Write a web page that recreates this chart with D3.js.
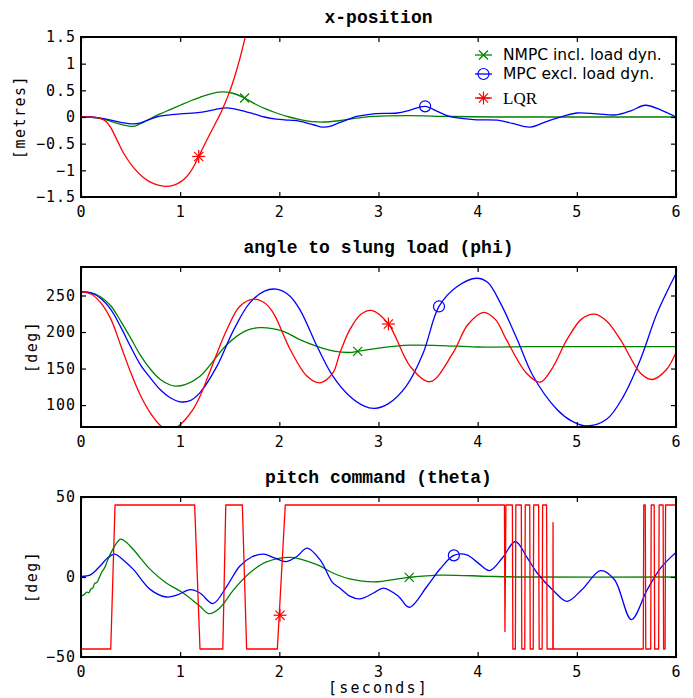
<!DOCTYPE html>
<html>
<head>
<meta charset="UTF-8">
<style>
  body { margin: 0; background: #fff; }
  svg text { font-family: "DejaVu Sans Mono", monospace; font-size: 15px; letter-spacing: 1px; fill: #000; }
  svg .title { font-family: "Liberation Mono", monospace; font-weight: bold; font-size: 18px; letter-spacing: 0; }
  svg .ylabel { letter-spacing: 1.5px; }
  svg .legend text { font-family: "DejaVu Sans", sans-serif; font-size: 15.5px; letter-spacing: 0; }
  .tick line { stroke-width: 1.2; }
</style>
</head>
<body>
<svg></svg>
<script src="https://d3js.org/d3.v7.min.js"></script>
<script>

// time axis
const timeTicks = [0, 1, 2, 3, 4, 5, 6];

// x-position [metres]
const xposTicks = [-1.5, -1, -0.5, 0, 0.5, 1, 1.5];
const xposNmpc = [[0,0],[0.1,-0.005],[0.2,-0.03],[0.3,-0.08],[0.4,-0.14],[0.5,-0.175],[0.55,-0.165],[0.62,-0.11],[0.68,-0.05],[0.73,0],[0.8,0.06],[0.9,0.14],[1.0,0.22],[1.1,0.3],[1.2,0.37],[1.3,0.43],[1.42,0.47],[1.52,0.45],[1.65,0.356],[1.74,0.26],[1.85,0.16],[1.97,0.075],[2.1,0.0],[2.21,-0.05],[2.33,-0.085],[2.44,-0.094],[2.6,-0.07],[2.71,-0.04],[2.95,0.01],[3.3,0.025],[3.7,0.01],[4.2,0],[5,0],[6,0]];
const xposMpc = [[0,0],[0.1,0],[0.2,-0.02],[0.3,-0.06],[0.4,-0.1],[0.53,-0.13],[0.6,-0.11],[0.7,-0.04],[0.76,0],[0.85,0.03],[1.0,0.06],[1.2,0.085],[1.35,0.14],[1.47,0.17],[1.6,0.13],[1.74,0.06],[1.85,0.0],[1.97,-0.04],[2.1,-0.06],[2.21,-0.08],[2.35,-0.15],[2.44,-0.19],[2.52,-0.17],[2.6,-0.11],[2.7,-0.04],[2.78,0.01],[2.95,0.06],[3.19,0.075],[3.32,0.13],[3.47,0.2],[3.6,0.1],[3.72,0.01],[3.96,-0.05],[4.2,-0.06],[4.35,-0.12],[4.53,-0.19],[4.7,-0.08],[4.8,-0.02],[5.0,0.075],[5.2,0.06],[5.4,0.04],[5.55,0.12],[5.69,0.22],[5.85,0.13],[6,0]];
const xposLqr = [[0,0],[0.16,-0.01],[0.2,-0.03],[0.25,-0.08],[0.3,-0.2],[0.36,-0.42],[0.43,-0.68],[0.53,-0.95],[0.62,-1.12],[0.7,-1.22],[0.85,-1.3],[0.93,-1.28],[1.0,-1.22],[1.05,-1.15],[1.1,-1.04],[1.15,-0.88],[1.187,-0.74],[1.25,-0.5],[1.3,-0.32],[1.35,-0.14],[1.4,0.04],[1.45,0.25],[1.5,0.48],[1.55,0.76],[1.6,1.08],[1.65,1.45],[1.7,1.85],[1.8,2.7]];
const xposMarks = [[1.65,0.356],[3.47,0.2],[1.187,-0.74]];

// angle to slung load (phi) [deg]
const phiTicks = [100, 150, 200, 250];
const phiNmpc = [[0,255],[0.1,254],[0.2,248],[0.3,236],[0.4,215],[0.5,192],[0.6,168],[0.7,149],[0.8,135],[0.9,127.5],[0.95,126],[1.05,128],[1.2,139.5],[1.47,182.7],[1.65,201],[1.8,206],[2.04,201],[2.2,190],[2.38,180.5],[2.55,174],[2.71,172],[2.79,173.6],[3.0,178],[3.32,182],[3.62,181.5],[4.0,179.5],[4.5,180],[5,180],[6,180]];
const phiMpc = [[0,255],[0.1,253.5],[0.2,246],[0.3,231],[0.4,207],[0.5,180],[0.6,155],[0.7,137],[0.8,121],[0.9,110],[1.0,104.5],[1.1,106],[1.2,117],[1.37,153],[1.54,203],[1.7,239.5],[1.85,256],[1.97,258.6],[2.1,250],[2.21,230],[2.38,180.5],[2.54,139.5],[2.71,112],[2.85,99],[2.96,95.5],[3.1,102],[3.28,126],[3.45,171],[3.61,235],[3.79,262],[3.99,273.6],[4.1,268],[4.23,239.5],[4.4,189.5],[4.56,139.5],[4.8,94],[4.95,78],[5.1,71.4],[5.3,80.5],[5.47,112],[5.64,162],[5.81,226],[6,280]];
const phiLqr = [[0,255],[0.1,252],[0.2,240],[0.3,218],[0.4,182],[0.5,145],[0.6,113],[0.7,89],[0.8,72],[0.88,64],[0.97,70],[1.05,80],[1.13,94],[1.2,112],[1.3,146],[1.47,203],[1.6,235],[1.74,245],[1.85,240],[1.94,226],[2.11,176],[2.28,139.5],[2.41,130.5],[2.54,144],[2.61,171],[2.71,203],[2.82,224],[2.93,229.5],[3.1,211],[3.32,153],[3.52,132],[3.75,171],[3.9,210],[4.06,227],[4.18,217],[4.29,189.5],[4.49,144],[4.63,131.5],[4.75,150],[4.9,189.5],[5.05,218],[5.18,224.5],[5.3,215],[5.44,189.5],[5.64,144],[5.76,135],[5.9,148],[6,172]];
const phiMarks = [[2.79,173.6],[3.61,235],[3.1,211]];

// pitch command (theta) [deg]
const thetaTicks = [-50, 0, 50];
const thetaNmpc = [[0,-12],[0.03,-11],[0.06,-9.5],[0.08,-9.8],[0.1,-7.5],[0.12,-6.8],[0.138,-4],[0.16,-3.5],[0.18,-1],[0.205,2.5],[0.24,6],[0.27,10.8],[0.31,16],[0.34,19.5],[0.4,23.7],[0.45,22],[0.53,17],[0.7,4.6],[0.86,-3.7],[1.03,-10],[1.2,-18.3],[1.29,-22.9],[1.4,-19.3],[1.54,-7.9],[1.7,2.5],[1.87,9.4],[2.11,12.3],[2.38,7.7],[2.54,2.5],[2.71,-1.2],[2.95,-3.1],[3.31,-0.2],[3.62,1.2],[4.12,0.4],[4.5,0],[6,0]];
const thetaMpc = [[0,0.3],[0.1,1.5],[0.19,6.7],[0.27,12],[0.34,14.3],[0.42,11],[0.53,4.6],[0.7,-7.9],[0.86,-12.5],[0.98,-11],[1.1,-7.9],[1.2,-10],[1.33,-16.6],[1.47,-5.8],[1.6,6.7],[1.72,12.5],[1.84,14.3],[1.95,12],[2.07,9.6],[2.18,13],[2.28,18.1],[2.41,10.8],[2.54,-3.7],[2.61,-6.9],[2.71,-12],[2.81,-13.7],[2.95,-10],[3.05,-6.9],[3.2,-12],[3.31,-18.9],[3.49,-5.8],[3.62,5],[3.76,13.5],[3.89,13.9],[4.0,9],[4.12,4],[4.25,12],[4.38,22.2],[4.5,12],[4.6,2.5],[4.77,-8.9],[4.9,-15.2],[5.05,-8],[5.24,4],[5.38,-1.7],[5.55,-26.6],[5.71,-7.9],[5.85,6],[6,15.4]];
const thetaLqr = [[0,-45],[0.3,-45],[0.343,45],[1.146,45],[1.2,-45],[1.43,-45],[1.46,45],[1.627,45],[1.67,-45],[1.98,-45],[2.06,45],[4.27,45],[4.275,-34],[4.285,45],[4.35,45],[4.355,-45],[4.38,-45],[4.385,45],[4.44,45],[4.445,-45],[4.475,-45],[4.48,45],[4.525,45],[4.53,-45],[4.56,-45],[4.565,45],[4.615,45],[4.62,-45],[4.65,-45],[4.655,45],[4.695,45],[4.7,-45],[4.758,-45],[4.76,34],[4.762,-45],[5.67,-45],[5.675,45],[5.69,45],[5.695,-45],[5.745,-45],[5.75,45],[5.78,45],[5.785,-45],[5.825,-45],[5.83,45],[5.87,45],[5.875,-45],[5.89,-45],[5.895,45],[6,45]];
const thetaMarks = [[3.31,-0.2],[3.76,13.5],[2.007,-23.9]];

const seriesNames = ["NMPC incl. load dyn.", "MPC excl. load dyn.", "LQR"];
const seriesColors = ["#008000", "#0000ff", "#ff0000"];
const seriesMarkers = ["x", "o", "*"];

let width = 693, height = 698;
let plotH = 160;

let svg = d3.select("svg")
    .attr("width", width)
    .attr("height", height);

let x = d3.scaleLinear().domain([0, 6]).range([81, 676]);

let panels = [
  {title: "x-position", top: 37, domain: [-1.5, 1.5], ticks: xposTicks, label: "[metres]", labelX: 25,
   data: [xposNmpc, xposMpc, xposLqr], marks: xposMarks, steps: [false, false, false]},
  {title: "angle to slung load (phi)", top: 267, domain: [70, 289], ticks: phiTicks, label: "[deg]", labelX: 36.5,
   data: [phiNmpc, phiMpc, phiLqr], marks: phiMarks, steps: [false, false, false]},
  {title: "pitch command (theta)", top: 497, domain: [-50, 50], ticks: thetaTicks, label: "[deg]", labelX: 36.5,
   data: [thetaNmpc, thetaMpc, thetaLqr], marks: thetaMarks, steps: [false, false, true]}
];

function drawMarker(g, type, px, py, color) {
  if (type == "o") {
    g.append("circle").attr("cx", px).attr("cy", py).attr("r", 5.5)
      .attr("fill", "none").attr("stroke", color).attr("stroke-width", 1.2);
    return;
  }
  let segs;
  if (type == "x") {
    let s = 4.5;
    segs = [[-s,-s,s,s],[-s,s,s,-s]];
  } else {
    let s = 6.5, d = 4.6;
    segs = [[-s,0,s,0],[0,-s,0,s],[-d,-d,d,d],[-d,d,d,-d]];
  }
  segs.forEach(q => {
    g.append("line")
      .attr("x1", px + q[0]).attr("y1", py + q[1])
      .attr("x2", px + q[2]).attr("y2", py + q[3])
      .attr("stroke", color).attr("stroke-width", 1.2);
  });
}

let plain = d3.format("");
function fmt(v) {
  return plain(v).replace("-", "\u2212");
}

panels.forEach((p, pi) => {
  let y = d3.scaleLinear().domain(p.domain).range([p.top + plotH, p.top]);
  let g = svg.append("g");

  svg.append("text")
    .attr("class", "title")
    .attr("x", 378.5)
    .attr("y", p.top - 14)
    .attr("text-anchor", "middle")
    .text(p.title);

  g.append("clipPath").attr("id", "clip" + pi)
    .append("rect")
    .attr("x", x(0)).attr("y", p.top)
    .attr("width", x(6) - x(0)).attr("height", plotH);

  p.data.forEach((d, si) => {
    let line = d3.line()
      .x(v => x(v[0]))
      .y(v => y(v[1]))
      .curve(p.steps[si] ? d3.curveLinear : d3.curveCatmullRom.alpha(0.5));
    g.append("path")
      .datum(d)
      .attr("clip-path", "url(#clip" + pi + ")")
      .attr("fill", "none")
      .attr("stroke", seriesColors[si])
      .attr("stroke-width", 1.3)
      .attr("stroke-linejoin", "round")
      .attr("d", line);
  });

  p.marks.forEach((m, si) => {
    drawMarker(g, seriesMarkers[si], x(m[0]), y(m[1]), seriesColors[si]);
  });

  // axes with inward ticks on every side
  let bottom = g.append("g")
    .attr("transform", "translate(0," + (p.top + plotH) + ")")
    .call(d3.axisBottom(x).tickValues(timeTicks).tickSize(-5).tickPadding(9).tickFormat(d3.format("d")));
  let left = g.append("g")
    .attr("transform", "translate(" + x(0) + ",0)")
    .call(d3.axisLeft(y).tickValues(p.ticks).tickSize(-5).tickPadding(5).tickFormat(fmt));
  let top = g.append("g")
    .attr("transform", "translate(0," + p.top + ")")
    .call(d3.axisTop(x).tickValues(timeTicks).tickSize(-5).tickFormat(""));
  let right = g.append("g")
    .attr("transform", "translate(" + x(6) + ",0)")
    .call(d3.axisRight(y).tickValues(p.ticks).tickSize(-5).tickFormat(""));
  [bottom, left, top, right].forEach(a => {
    a.select(".domain").remove();
    a.attr("font-family", null).attr("font-size", null);
  });

  g.append("rect")
    .attr("x", x(0)).attr("y", p.top)
    .attr("width", x(6) - x(0)).attr("height", plotH)
    .attr("fill", "none")
    .attr("stroke", "#000")
    .attr("stroke-width", 2);

  svg.append("text")
    .attr("class", "ylabel")
    .attr("transform", "translate(" + p.labelX + "," + (p.top + plotH / 2) + ") rotate(-90)")
    .attr("text-anchor", "middle")
    .text(p.label);
});

svg.append("text")
  .attr("x", 378.5)
  .attr("y", 693)
  .attr("text-anchor", "middle")
  .style("letter-spacing", "2.2px")
  .text("[seconds]");

// legend, top right of first panel
let legendY = [55, 74, 98];
let legend = svg.append("g").attr("class", "legend");
seriesNames.forEach((name, i) => {
  legend.append("line")
    .attr("x1", 475).attr("x2", 492)
    .attr("y1", legendY[i]).attr("y2", legendY[i])
    .attr("stroke", seriesColors[i]).attr("stroke-width", 1.3);
  drawMarker(legend, seriesMarkers[i], 483.5, legendY[i], seriesColors[i]);
  legend.append("text")
    .attr("x", 503)
    .attr("y", legendY[i])
    .attr("dy", "0.35em")
    .style("font-family", i == 2 ? "'Liberation Serif', serif" : null)
    .style("font-size", i == 2 ? "17px" : null)
    .text(name);
});

</script>
</body>
</html>
